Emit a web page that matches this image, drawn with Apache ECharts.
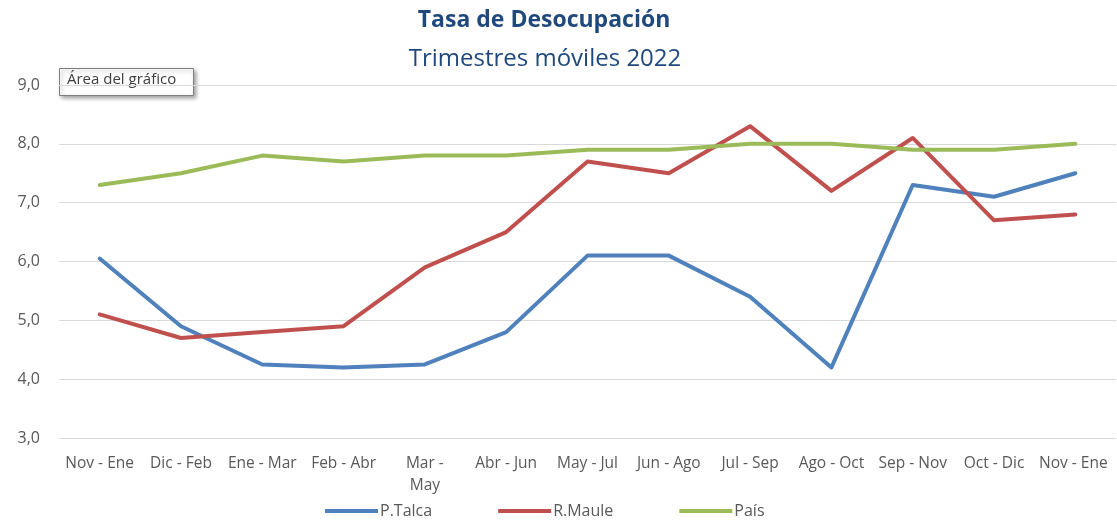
<!DOCTYPE html>
<html>
<head>
<meta charset="utf-8">
<script src="https://cdn.jsdelivr.net/npm/echarts@6/dist/echarts.min.js"></script>
<style>
  html, body { margin: 0; padding: 0; background: #fff; }
  #chart { width: 1117px; height: 522px; }
</style>
</head>
<body>
<div id="chart"></div>
<script>
const trimestres = ['Nov - Ene', 'Dic - Feb', 'Ene - Mar', 'Feb - Abr', 'Mar - May', 'Abr - Jun', 'May - Jul',
  'Jun - Ago', 'Jul - Sep', 'Ago - Oct', 'Sep - Nov', 'Oct - Dic', 'Nov - Ene ']
const pTalca = [6.05, 4.9, 4.25, 4.2, 4.25, 4.8, 6.1, 6.1, 5.4, 4.2, 7.3, 7.1, 7.5]
const rMaule = [5.1, 4.7, 4.8, 4.9, 5.9, 6.5, 7.7, 7.5, 8.3, 7.2, 8.1, 6.7, 6.8]
const pais = [7.3, 7.5, 7.8, 7.7, 7.8, 7.8, 7.9, 7.9, 8.0, 8.0, 7.9, 7.9, 8.0]

const fuente = '"Open Sans", "Liberation Sans", sans-serif'
let myChart = echarts.init(document.getElementById('chart'))

function serie (name, data, color) {
  return {
    name: name,
    type: 'line',
    data: data,
    symbol: 'none',
    lineStyle: { width: 4, color: color, cap: 'round', join: 'round' },
    itemStyle: { color: color }
  }
}

let option = {
  animation: false,
  title: [
    {
      text: 'Tasa de Desocupación',
      left: 539,
      top: 4,
      textAlign: 'center',
      textStyle: { fontFamily: fuente, fontSize: 23, fontWeight: 'bold', color: '#1F497D' }
    },
    {
      text: 'Trimestres móviles 2022',
      left: 540,
      top: 42,
      textAlign: 'center',
      textStyle: { fontFamily: fuente, fontSize: 24, fontWeight: 'normal', color: '#1F497D' }
    }
  ],
  grid: { left: 59, right: 1, top: 85, bottom: 84 },
  legend: {
    top: 498,
    left: 320,
    itemWidth: 53,
    itemHeight: 4,
    itemGap: 66,
    icon: 'rect',
    textStyle: { fontFamily: fuente, fontSize: 16, color: '#595959', padding: [0, 0, 0, -3] },
    data: ['P.Talca', 'R.Maule', 'País']
  },
  xAxis: {
    type: 'category',
    data: trimestres,
    axisTick: { show: false },
    axisLine: { show: false },
    axisLabel: {
      interval: 0,
      margin: 15,
      fontFamily: fuente,
      fontSize: 15.5,
      color: '#595959',
      lineHeight: 22,
      formatter: v => v === 'Mar - May' ? 'Mar -\nMay' : v
    }
  },
  yAxis: {
    type: 'value',
    min: 3,
    max: 9,
    interval: 1,
    axisLine: { show: false },
    axisTick: { show: false },
    axisLabel: {
      margin: 19,
      fontFamily: fuente,
      fontSize: 16,
      color: '#595959',
      formatter: v => v.toFixed(1).replace('.', ',')
    },
    splitLine: { lineStyle: { color: '#d9d9d9', width: 1 } }
  },
  graphic: [
    {
      type: 'rect',
      left: 59,
      top: 68,
      shape: { width: 134, height: 27 },
      style: { fill: '#fff', stroke: '#7f7f7f', lineWidth: 1, shadowBlur: 4, shadowOffsetX: 2, shadowOffsetY: 2, shadowColor: 'rgba(0,0,0,0.35)' }
    },
    {
      type: 'text',
      left: 67,
      top: 72,
      style: { text: 'Área del gráfico', fill: '#404040', font: '15px ' + fuente }
    }
  ],
  series: [
    serie('P.Talca', pTalca, '#4F81BD'),
    serie('R.Maule', rMaule, '#C0504D'),
    serie('País', pais, '#9BBB59')
  ]
}
myChart.setOption(option, true)
</script>
</body>
</html>
